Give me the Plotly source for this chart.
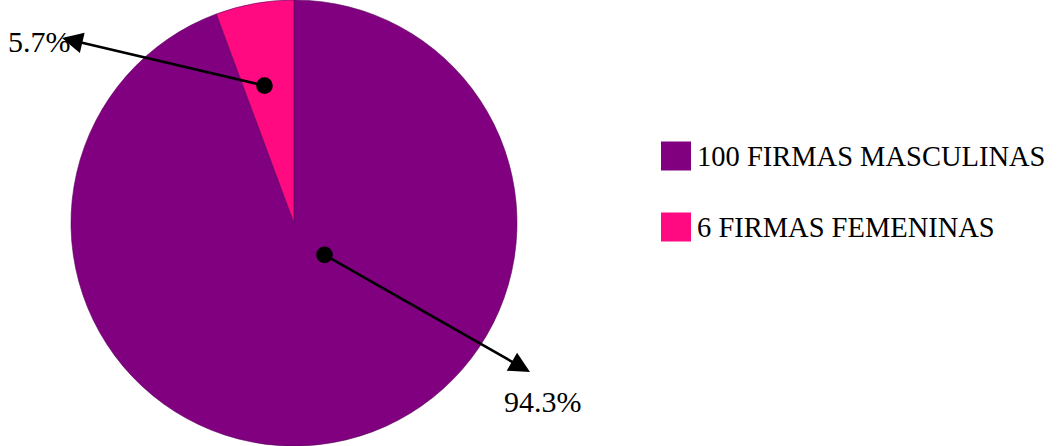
import plotly.graph_objects as go

W, H = 1059, 446

labels = ["100 FIRMAS MASCULINAS", "6 FIRMAS FEMENINAS"]
values = [100, 6]
colors = ["#800080", "#FF0A80"]
pct_text = ["94.3%", "5.7%"]

def px(x):
    return x / W

def py(y):
    return 1 - y / H

FONT = "Liberation Serif, Times New Roman, serif"

fig = go.Figure()
fig.add_trace(go.Pie(
    labels=labels,
    values=values,
    sort=False,
    direction="clockwise",
    rotation=0,
    marker=dict(colors=colors, line=dict(color="#5a005a", width=0.6)),
    textinfo="none",
    hoverinfo="label+percent",
    showlegend=False,
    domain=dict(x=[px(294 - 223), px(294 + 223)], y=[0, 1]),
))

annotations = []
annotations.append(dict(
    x=px(530), y=py(372), xref="paper", yref="paper",
    ax=323 - 530, ay=254 - 372, axref="pixel", ayref="pixel",
    text="", showarrow=True, arrowside="end+start",
    arrowhead=2, arrowsize=1.6, startarrowhead=6, startarrowsize=1.6,
    arrowwidth=2.6, arrowcolor="black", standoff=0, startstandoff=0,
))
annotations.append(dict(
    x=px(62), y=py(38), xref="paper", yref="paper",
    ax=266 - 62, ay=86 - 38, axref="pixel", ayref="pixel",
    text="", showarrow=True, arrowside="end+start",
    arrowhead=2, arrowsize=1.6, startarrowhead=6, startarrowsize=1.6,
    arrowwidth=2.6, arrowcolor="black", standoff=0, startstandoff=0,
))
annotations.append(dict(
    x=px(543), y=py(401), xref="paper", yref="paper", text=pct_text[0],
    showarrow=False, xanchor="center", yanchor="middle",
    font=dict(family=FONT, size=30, color="black"),
))
annotations.append(dict(
    x=px(6), y=py(41), xref="paper", yref="paper", text=pct_text[1],
    showarrow=False, xanchor="left", yanchor="middle",
    font=dict(family=FONT, size=30, color="black"),
))

shapes = []
legend_rows = [156, 227]
for lab, col, yc in zip(labels, colors, legend_rows):
    shapes.append(dict(
        type="rect", xref="paper", yref="paper",
        x0=px(661), x1=px(691), y0=py(yc - 14.5), y1=py(yc + 14.5),
        fillcolor=col, line=dict(width=0),
    ))
    annotations.append(dict(
        x=px(695), y=py(yc), xref="paper", yref="paper", text=lab,
        showarrow=False, xanchor="left", yanchor="middle",
        font=dict(family=FONT, size=28.5, color="black"),
    ))

fig.update_layout(
    width=W, height=H,
    margin=dict(l=0, r=0, t=0, b=0),
    paper_bgcolor="white", plot_bgcolor="white",
    annotations=annotations, shapes=shapes,
)

fig.write_html("out.html")
